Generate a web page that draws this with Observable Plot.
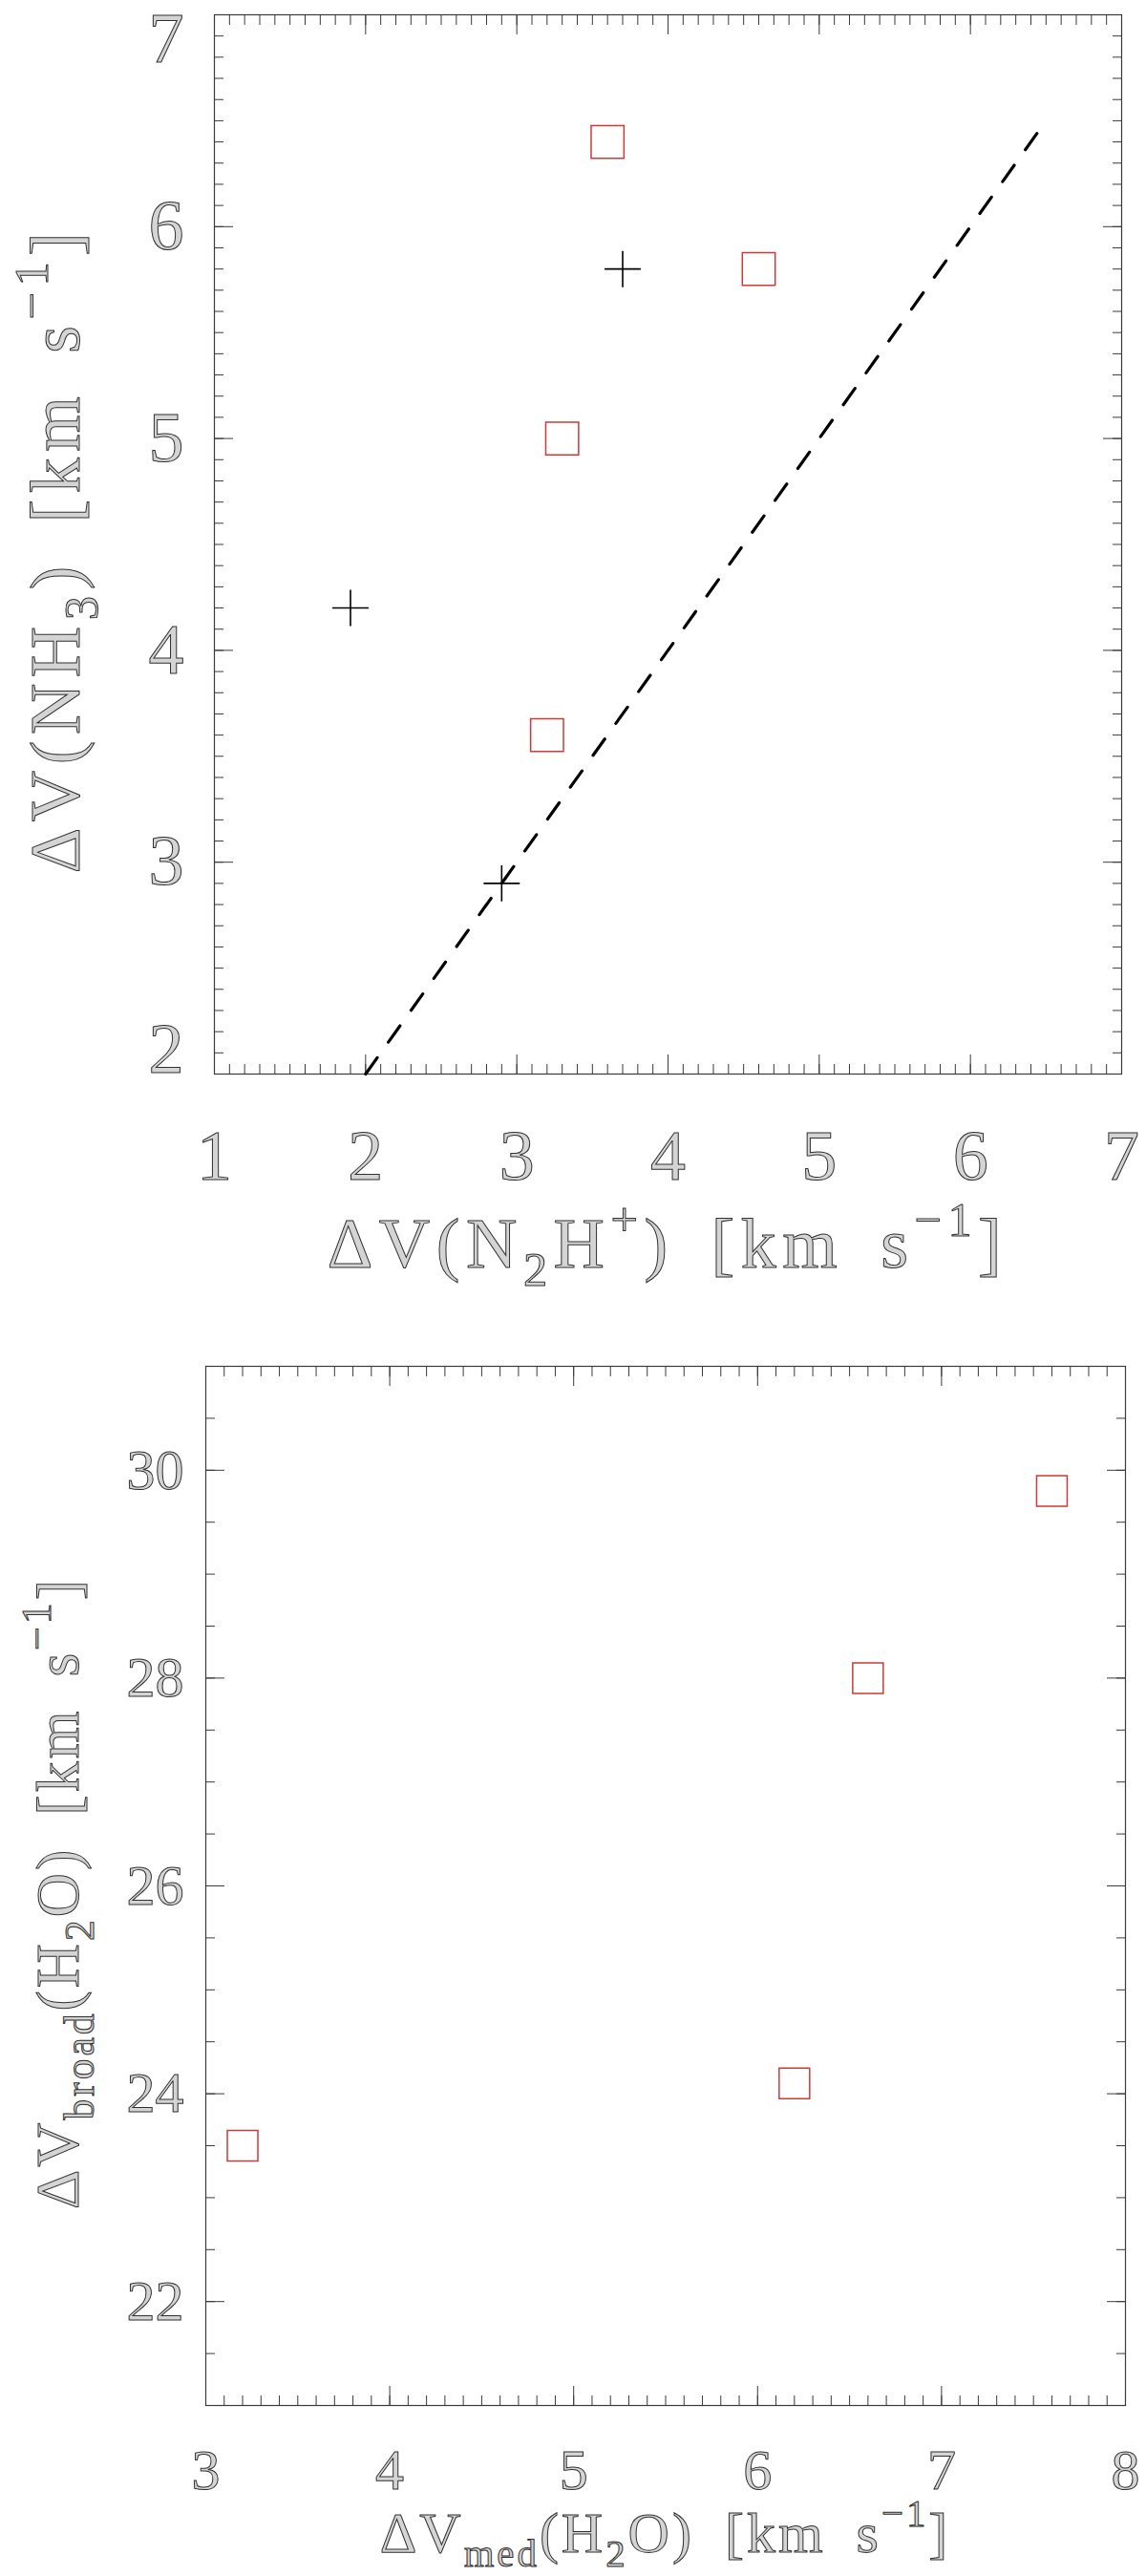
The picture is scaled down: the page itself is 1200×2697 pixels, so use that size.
<!DOCTYPE html>
<html><head><meta charset="utf-8">
<script src="https://cdn.jsdelivr.net/npm/d3@7"></script>
<script src="https://cdn.jsdelivr.net/npm/@observablehq/plot@0.6"></script>
<style>
body{margin:0;background:#fff;}
#chart svg{display:block;}
.hershey text{fill:#d4d4d4;stroke:#303030;stroke-width:1px;}
</style></head><body><div id="chart"></div>
<script>
// ---- Top panel data: ΔV(N2H+) vs ΔV(NH3)
const topSquaresX = [3.6, 4.6, 3.3, 3.2];
const topSquaresY = [6.4, 5.8, 5.0, 3.6];
const topPlusX = [3.7, 1.9, 2.9];
const topPlusY = [5.8, 4.2, 2.9];
const lineX = [2, 6.5];
const lineY = [2, 6.5];
const topXDomain = [1, 7];
const topYDomain = [2, 7];
const topXTickLabels = [1, 2, 3, 4, 5, 6, 7];
const topYTickLabels = [2, 3, 4, 5, 6, 7];
const topXTitle = [["ΔV(N",""],["2","sub"],["H",""],["+","sup"],[") [km s",""],["−1","sup"],["]",""]];
const topYTitle = [["ΔV(NH",""],["3","sub"],[") [km s",""],["−1","sup"],["]",""]];

// ---- Bottom panel data: ΔV_med(H2O) vs ΔV_broad(H2O)
const botSquaresX = [3.2, 6.2, 6.6, 7.6];
const botSquaresY = [23.5, 24.1, 28.0, 29.8];
const botXDomain = [3, 8];
const botYDomain = [21, 31];
const botXTickLabels = [3, 4, 5, 6, 7, 8];
const botYTickLabels = [22, 24, 26, 28, 30];
const botXTitle = [["ΔV",""],["med","sub"],["(H",""],["2","sub"],["O) [km s",""],["−1","sup"],["]",""]];
const botYTitle = [["ΔV",""],["broad","sub"],["(H",""],["2","sub"],["O) [km s",""],["−1","sup"],["]",""]];

const red = "#cc3a3a";
const axisCol = "#3a3a3a";
const font = "Liberation Serif";
const fmt = d => String(d);

const plusSymbol = {
  draw(ctx, size) {
    const h = Math.sqrt(size) / 2;
    ctx.moveTo(-h, 0); ctx.lineTo(h, 0);
    ctx.moveTo(0, -h); ctx.lineTo(0, h);
  }
};

function steps(lo, hi, step) {
  const n = Math.round((hi - lo) / step);
  return d3.range(n + 1).map(i => +(lo + i * step).toFixed(6));
}

function boxAxes(xMinor, xMajor, yMinor, yMajor) {
  const marks = [];
  for (const a of ["bottom", "top"]) {
    marks.push(Plot.axisX(xMinor, {anchor: a, tickSize: -10, tickFormat: () => "", label: null, stroke: axisCol}));
    marks.push(Plot.axisX(xMajor, {anchor: a, tickSize: -20, tickFormat: () => "", label: null, stroke: axisCol}));
  }
  for (const a of ["left", "right"]) {
    marks.push(Plot.axisY(yMinor, {anchor: a, tickSize: -10, tickFormat: () => "", label: null, stroke: axisCol}));
    marks.push(Plot.axisY(yMajor, {anchor: a, tickSize: -20, tickFormat: () => "", label: null, stroke: axisCol}));
  }
  return marks;
}

function addTitle(svg, parts, x, y, size, rotate, spacing) {
  const t = d3.select(svg).append("text")
    .attr("font-family", font)
    .attr("font-size", size)
    .attr("text-anchor", "middle")
    .attr("letter-spacing", spacing + "px")
    .attr("word-spacing", "14px")
    .attr("transform", `translate(${x},${y})` + (rotate ? " rotate(-90)" : ""));
  let shift = 0;
  for (const [txt, kind] of parts) {
    const target = kind === "sub" ? 0.25 : kind === "sup" ? -0.45 : 0;
    const s = t.append("tspan").text(txt);
    if (kind) s.attr("font-size", size * 0.68);
    s.attr("dy", ((target - shift) * size).toFixed(1));
    shift = target;
  }
}

// ---------- Top panel ----------
const topW = 1200, topH = 1370;
const topM = {top: 15, right: 26, bottom: 246, left: 224};
const topPlot = Plot.plot({
  width: topW, height: topH,
  marginTop: topM.top, marginRight: topM.right, marginBottom: topM.bottom, marginLeft: topM.left,
  className: "hershey",
  style: {fontFamily: font, background: "#fff"},
  x: {domain: topXDomain},
  y: {domain: topYDomain},
  marks: [
    ...boxAxes(steps(1, 7, 0.1), steps(1, 7, 1), steps(2, 7, 0.1), steps(2, 7, 1)),
    Plot.frame({stroke: axisCol, strokeWidth: 1.2}),
    Plot.axisX(topXTickLabels, {anchor: "bottom", tickSize: 0, tickPadding: 58, fontSize: 74, label: null, tickFormat: fmt}),
    Plot.axisY(topYTickLabels.filter(d => d !== 2 && d !== 7), {anchor: "left", tickSize: 0, tickPadding: 32, fontSize: 74, label: null, tickFormat: fmt}),
    Plot.axisY([topYTickLabels[topYTickLabels.length - 1]], {anchor: "left", tickSize: 0, tickPadding: 32, fontSize: 74, label: null, dy: 26, tickFormat: fmt}),
    Plot.axisY([topYTickLabels[0]], {anchor: "left", tickSize: 0, tickPadding: 32, fontSize: 74, label: null, dy: -25, tickFormat: fmt}),
    Plot.line(lineX.map((x, i) => ({x, y: lineY[i]})), {x: "x", y: "y", stroke: "#000", strokeWidth: 3.2, strokeDasharray: "21,20"}),
    Plot.dot(topSquaresX.map((x, i) => ({x, y: topSquaresY[i]})), {x: "x", y: "y", symbol: "square", r: 19.4, stroke: red, strokeWidth: 1.5, fill: "none"}),
    Plot.dot(topPlusX.map((x, i) => ({x, y: topPlusY[i]})), {x: "x", y: "y", symbol: plusSymbol, r: 21.4, stroke: "#000", strokeWidth: 1.6, fill: "none"})
  ]
});
addTitle(topPlot, topXTitle, (topM.left + topW - topM.right) / 2, 1327, 74, false, 6.5);
addTitle(topPlot, topYTitle, 83, (topM.top + topH - topM.bottom) / 2 + 6, 74, true, 6.5);
document.getElementById("chart").append(topPlot);

// ---------- Bottom panel ----------
const botW = 1200, botH = 1327;
const botM = {top: 60, right: 22, bottom: 179, left: 215};
const botPlot = Plot.plot({
  width: botW, height: botH,
  marginTop: botM.top, marginRight: botM.right, marginBottom: botM.bottom, marginLeft: botM.left,
  className: "hershey",
  style: {fontFamily: font, background: "#fff"},
  x: {domain: botXDomain},
  y: {domain: botYDomain},
  marks: [
    ...boxAxes(steps(3, 8, 0.1), steps(3, 8, 1), steps(21, 31, 0.5), botYTickLabels),
    Plot.frame({stroke: axisCol, strokeWidth: 1.2}),
    Plot.axisX(botXTickLabels, {anchor: "bottom", tickSize: 0, tickPadding: 45, fontSize: 60, label: null, tickFormat: fmt}),
    Plot.axisY(botYTickLabels, {anchor: "left", tickSize: 0, tickPadding: 23, fontSize: 60, label: null, tickFormat: fmt}),
    Plot.dot(botSquaresX.map((x, i) => ({x, y: botSquaresY[i]})), {x: "x", y: "y", symbol: "square", r: 18.05, stroke: red, strokeWidth: 1.5, fill: "none"})
  ]
});
addTitle(botPlot, botXTitle, (botM.left + botW - botM.right) / 2, 1302, 60, false, 3);
addTitle(botPlot, botYTitle, 82, (botM.top + botH - botM.bottom) / 2 + 8, 64, true, 3);
document.getElementById("chart").append(botPlot);
</script>
</body></html>
